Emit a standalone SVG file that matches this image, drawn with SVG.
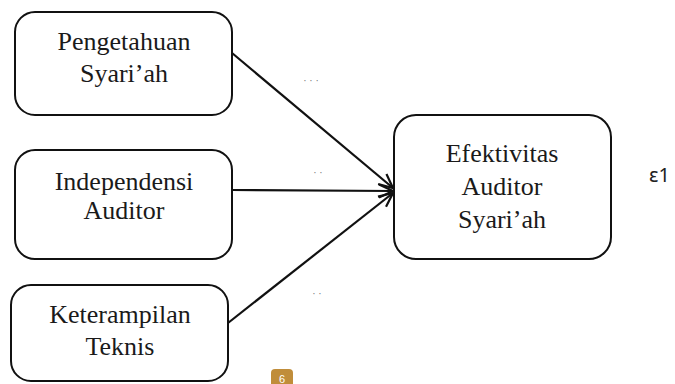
<svg xmlns="http://www.w3.org/2000/svg" width="675" height="384" viewBox="0 0 675 384">
<style>
.box{fill:#fff;stroke:#111;stroke-width:2}
.lbl{font-family:"Liberation Serif","Times New Roman",serif;font-size:26px;fill:#1a1a1a;text-anchor:middle}
.edge{stroke:#111;stroke-width:2.2;fill:none}
.dots{font-family:"Liberation Sans",Arial,sans-serif;font-size:10px;fill:#777;text-anchor:middle}
</style>
<defs>
<marker id="arr" viewBox="0 0 16 16" refX="15" refY="8" markerWidth="16" markerHeight="16" markerUnits="userSpaceOnUse" orient="auto">
<path d="M1,1.5 L15,8 L1,14.5" fill="none" stroke="#111" stroke-width="2.2"/>
</marker>
</defs>
<rect width="675" height="384" fill="#fff"/>
<g id="connectors">
<line class="edge" x1="232" y1="53" x2="393" y2="188" marker-end="url(#arr)"/>
<line class="edge" x1="232" y1="190" x2="393" y2="191" marker-end="url(#arr)"/>
<line class="edge" x1="228" y1="323" x2="393" y2="193" marker-end="url(#arr)"/>
</g>
<g id="node-pengetahuan">
<rect class="box" x="15" y="12" width="217" height="103" rx="20"/>
<text class="lbl" x="124" y="50">Pengetahuan</text>
<text class="lbl" x="124" y="82">Syari’ah</text>
</g>
<g id="node-independensi">
<rect class="box" x="15" y="150" width="217" height="109" rx="20"/>
<text class="lbl" x="124" y="190">Independensi</text>
<text class="lbl" x="124" y="219">Auditor</text>
</g>
<g id="node-keterampilan">
<rect class="box" x="11" y="285" width="217" height="96" rx="20"/>
<text class="lbl" x="120" y="323">Keterampilan</text>
<text class="lbl" x="120" y="355">Teknis</text>
</g>
<g id="node-efektivitas">
<rect class="box" x="394" y="115" width="217" height="144" rx="22"/>
<text class="lbl" x="502" y="162">Efektivitas</text>
<text class="lbl" x="502" y="195">Auditor</text>
<text class="lbl" x="502" y="228">Syari’ah</text>
</g>
<text x="649" y="182" font-family="'Noto Sans','DejaVu Sans',sans-serif" font-size="20" fill="#222">ε1</text>
<text class="dots" x="311" y="84">· · ·</text>
<text class="dots" x="318" y="176">· ·</text>
<text class="dots" x="317" y="297">· ·</text>
<g id="badge">
<rect x="271" y="369" width="22" height="22" rx="4" fill="#C08D3A"/>
<text x="282" y="383" font-family="'Liberation Sans',Arial,sans-serif" font-size="11" fill="#fff" text-anchor="middle">6</text>
</g>
</svg>
